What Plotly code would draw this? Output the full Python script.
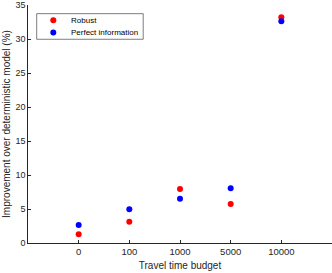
import plotly.graph_objects as go

categories = ["0", "100", "1000", "5000", "10000"]
robust = [1.27, 3.12, 7.95, 5.75, 33.2]
perfect = [2.64, 4.98, 6.49, 8.05, 32.6]
y_ticks = [0, 5, 10, 15, 20, 25, 30, 35]
series_names = ["Robust", "Perfect information"]
series_colors = ["#ff0000", "#0000ff"]

font = "Liberation Sans, Arial, sans-serif"
axis_col = "#262626"

fig = go.Figure()
for name, vals, col in zip(series_names, [robust, perfect], series_colors):
    fig.add_trace(go.Scatter(x=categories, y=vals, mode="markers", name=name,
                             marker=dict(color=col, size=6)))

# compact MATLAB-style legend
shapes = [dict(type="rect", xref="paper", yref="paper", x0=0.0286, x1=0.379,
               y0=0.856, y1=0.9636, line=dict(color=axis_col, width=0.6),
               fillcolor="white", layer="above")]
annotations = []
row_y = [0.936, 0.884]
for name, col, ry in zip(series_names, series_colors, row_y):
    shapes.append(dict(type="circle", xref="paper", yref="paper",
                       xsizemode="pixel", ysizemode="pixel",
                       xanchor=0.0832, yanchor=ry, x0=-3, x1=3, y0=-3, y1=3,
                       fillcolor=col, line=dict(width=0), layer="above"))
    annotations.append(dict(text=name, xref="paper", yref="paper", x=0.136, y=ry,
                            xanchor="left", yanchor="middle", showarrow=False,
                            font=dict(size=8, color="#000000")))

fig.update_layout(
    width=332, height=273,
    margin=dict(l=28, r=0, t=5, b=30),
    paper_bgcolor="white", plot_bgcolor="white",
    font=dict(family=font, size=10, color=axis_col),
    showlegend=False,
    shapes=shapes, annotations=annotations,
    xaxis=dict(type="category", categoryorder="array", categoryarray=categories,
               range=[-1, 5], showgrid=False, zeroline=False, automargin=False,
               showline=True, linecolor=axis_col, linewidth=0.6,
               ticks="inside", ticklen=3, tickcolor=axis_col, tickwidth=0.6,
               tickfont=dict(size=9.5, color=axis_col), ticklabeloverflow="allow",
               title=dict(text="Travel time budget", font=dict(size=10, color=axis_col), standoff=5)),
    yaxis=dict(range=[0, 35], tickvals=y_ticks, showgrid=False, zeroline=False,
               automargin=False,
               showline=True, linecolor=axis_col, linewidth=0.6,
               ticks="inside", ticklen=3, tickcolor=axis_col, tickwidth=0.6,
               tickfont=dict(size=9, color=axis_col), ticklabeloverflow="allow",
               title=dict(text="Improvement over deterministic model (%)",
                          font=dict(size=10, color=axis_col), standoff=2)),
)

fig.write_html("out.html", config={"displayModeBar": False},
               post_script="document.body.style.margin='0';document.body.style.padding='0';"
                           "document.body.style.overflow='hidden';")
